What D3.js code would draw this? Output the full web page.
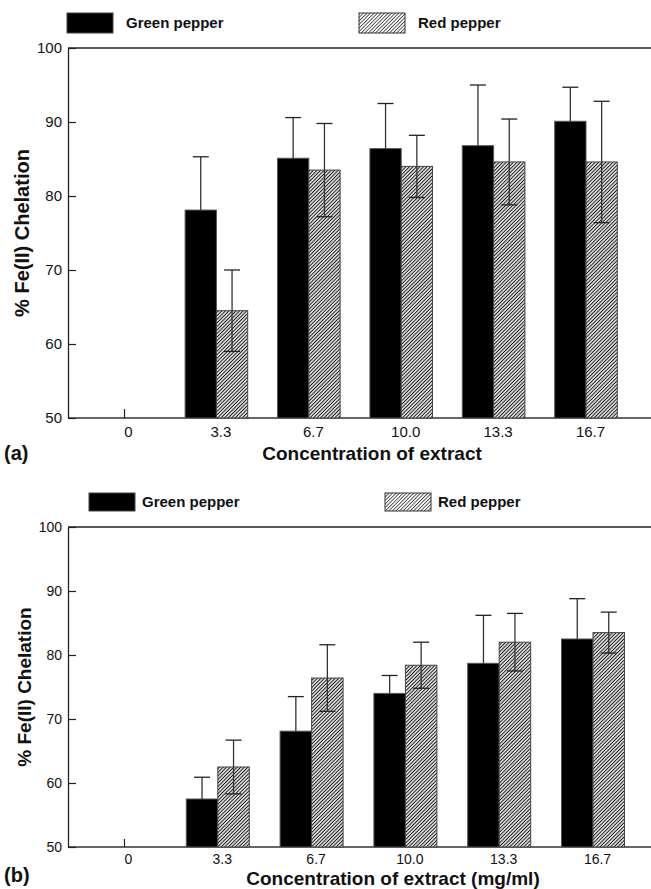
<!DOCTYPE html>
<html>
<head>
<meta charset="utf-8">
<script src="https://cdn.jsdelivr.net/npm/d3@7"></script>
<style>
  body { margin: 0; background: #ffffff; }
  svg { display: block; font-family: "Liberation Sans", Arial, Helvetica, sans-serif; }
</style>
</head>
<body>
<svg id="chart" width="651" height="889"></svg>
<script>
// Chart data
const concentrations = ["0", "3.3", "6.7", "10.0", "13.3", "16.7"];
const seriesNames = ["Green pepper", "Red pepper"];
const yTicks = [50, 60, 70, 80, 90, 100];

// (a) % Fe(II) chelation
const greenA = [null, 78.1, 85.1, 86.4, 86.8, 90.1];
const greenErrA = [null, 7.2, 5.5, 6.1, 8.2, 4.6];
const redA = [null, 64.5, 83.5, 84.0, 84.6, 84.6];
const redErrA = [null, 5.5, 6.3, 4.2, 5.8, 8.2];

// (b) % Fe(II) chelation
const greenB = [null, 57.5, 68.1, 74.0, 78.7, 82.5];
const greenErrB = [null, 3.4, 5.4, 2.8, 7.5, 6.3];
const redB = [null, 62.5, 76.4, 78.4, 82.0, 83.5];
const redErrB = [null, 4.2, 5.2, 3.6, 4.5, 3.2];

const svg = d3.select('#chart');

// Hatch pattern for red pepper bars
const defs = svg.append('defs');
function addHatch(id, color, width, step) {
    const p = defs.append('pattern')
        .attr('id', id)
        .attr('patternUnits', 'userSpaceOnUse')
        .attr('width', step)
        .attr('height', step)
        .attr('patternTransform', 'rotate(45)');
    p.append('rect').attr('width', step).attr('height', step).attr('fill', '#ffffff');
    p.append('line')
        .attr('x1', step / 2).attr('y1', 0)
        .attr('x2', step / 2).attr('y2', step)
        .attr('stroke', color)
        .attr('stroke-width', width);
}
addHatch('hatch', '#111', 1.1, 2.5);
addHatch('hatchLegend', '#333', 0.8, 2.5);

function drawPanel(cfg) {
    const g = svg.append('g');
    const left = 68, right = 660;

    const y = d3.scaleLinear().domain([50, 100]).range([cfg.bottom, cfg.top]);
    const x = d3.scalePoint().domain(concentrations).range([124, cfg.lastX]);
    const sx = d3.scaleBand().domain(seriesNames).range([-cfg.barW, cfg.barW]);

    // Frame lines
    g.append('line')
        .attr('x1', left).attr('x2', right)
        .attr('y1', cfg.top).attr('y2', cfg.top)
        .attr('stroke', '#222').attr('stroke-width', 1.3);
    g.append('line')
        .attr('x1', left).attr('x2', right)
        .attr('y1', cfg.bottom).attr('y2', cfg.bottom)
        .attr('stroke', '#333').attr('stroke-width', 1.6);

    // Y axis
    const yAxis = g.append('g')
        .attr('transform', `translate(${left},0)`)
        .call(d3.axisLeft(y)
            .tickValues(yTicks)
            .tickSize(-8)
            .tickSizeOuter(0)
            .tickPadding(6)
            .tickFormat(d3.format('d')));
    yAxis.select('.domain').attr('stroke', '#222').attr('stroke-width', 1.3);
    yAxis.selectAll('.tick line').attr('stroke', '#222').attr('stroke-width', 1.2);
    yAxis.selectAll('text')
        .style('font-size', cfg.tickFont + 'px')
        .attr('fill', '#111');

    // X axis
    const xAxis = g.append('g')
        .attr('transform', `translate(0,${cfg.bottom})`)
        .call(d3.axisBottom(x)
            .tickSize(-cfg.xTick)
            .tickSizeOuter(0)
            .tickPadding(cfg.xPad));
    xAxis.select('.domain').remove();
    xAxis.selectAll('.tick line').attr('stroke', '#222').attr('stroke-width', 1.2);
    xAxis.selectAll('text')
        .attr('dx', 4)
        .style('font-size', cfg.tickFont + 'px')
        .attr('fill', '#111');

    // Bars
    const rows = concentrations.map((c, i) => ({
        cat: c,
        values: [
            { name: seriesNames[0], v: cfg.green[i], e: cfg.greenErr[i] },
            { name: seriesNames[1], v: cfg.red[i], e: cfg.redErr[i] }
        ]
    }));

    const groups = g.selectAll('.grp')
        .data(rows)
        .enter().append('g')
        .attr('class', 'grp')
        .attr('transform', d => `translate(${x(d.cat)},0)`);

    groups.selectAll('rect')
        .data(d => d.values.filter(s => s.v != null))
        .enter().append('rect')
        .attr('x', d => sx(d.name))
        .attr('y', d => y(d.v))
        .attr('width', sx.bandwidth())
        .attr('height', d => y(50) - y(d.v))
        .attr('fill', d => d.name === seriesNames[0] ? '#000' : 'url(#hatch)')
        .attr('stroke', d => d.name === seriesNames[0] ? '#555' : '#444')
        .attr('stroke-width', 1);

    // Error bars (green: upper only, red: both directions)
    const capW = 8;
    const errs = groups.selectAll('.err')
        .data(d => d.values.filter(s => s.v != null))
        .enter().append('g')
        .attr('class', 'err')
        .attr('transform', d => `translate(${sx(d.name) + sx.bandwidth() / 2},0)`);

    errs.append('line')
        .attr('x1', 0).attr('x2', 0)
        .attr('y1', d => d.name === seriesNames[0] ? y(d.v) : y(d.v - d.e))
        .attr('y2', d => y(d.v + d.e))
        .attr('stroke', '#333').attr('stroke-width', 1.3);
    errs.append('line')
        .attr('x1', -capW).attr('x2', capW)
        .attr('y1', d => y(d.v + d.e)).attr('y2', d => y(d.v + d.e))
        .attr('stroke', '#222').attr('stroke-width', 1.3);
    errs.filter(d => d.name === seriesNames[1]).append('line')
        .attr('x1', -capW).attr('x2', capW)
        .attr('y1', d => y(d.v - d.e)).attr('y2', d => y(d.v - d.e))
        .attr('stroke', '#222').attr('stroke-width', 1.3);

    // Legend
    const lg = g.append('g');
    seriesNames.forEach((name, i) => {
        lg.append('rect')
            .attr('x', cfg.legendX[i])
            .attr('y', cfg.legendY)
            .attr('width', 46)
            .attr('height', cfg.legendH)
            .attr('fill', i === 0 ? '#000' : 'url(#hatchLegend)')
            .attr('stroke', i === 0 ? '#444' : '#333')
            .attr('stroke-width', 1);
        lg.append('text')
            .attr('x', cfg.legendX[i] + cfg.legendGap)
            .attr('y', cfg.legendY + cfg.legendH / 2)
            .attr('dy', '0.36em')
            .style('font-size', '15px')
            .style('font-weight', 'bold')
            .attr('fill', '#111')
            .text(name);
    });

    // Axis titles
    g.append('text')
        .attr('transform', `translate(${cfg.yTitleX},${(cfg.top + cfg.bottom) / 2}) rotate(-90)`)
        .attr('text-anchor', 'middle')
        .attr('dy', '0.36em')
        .style('font-size', cfg.yTitleFont + 'px')
        .style('font-weight', 'bold')
        .attr('fill', '#111')
        .text('% Fe(II) Chelation');

    g.append('text')
        .attr('x', cfg.xTitleX)
        .attr('y', cfg.xTitleY)
        .attr('text-anchor', 'middle')
        .style('font-size', '19px')
        .style('font-weight', 'bold')
        .attr('fill', '#111')
        .text(cfg.xTitle);

    g.append('text')
        .attr('x', 4)
        .attr('y', cfg.tagY)
        .style('font-size', '20px')
        .style('font-weight', 'bold')
        .attr('fill', '#111')
        .text(cfg.tag);
}

drawPanel({
    top: 48, bottom: 418, lastX: 586, barW: 31.3,
    green: greenA, greenErr: greenErrA, red: redA, redErr: redErrA,
    tickFont: 15, xTick: 9, xPad: 8,
    legendX: [67, 359], legendY: 13, legendH: 20, legendGap: 59,
    yTitleX: 22, yTitleFont: 20,
    xTitle: 'Concentration of extract', xTitleX: 372, xTitleY: 460,
    tag: '(a)', tagY: 460
});

drawPanel({
    top: 527, bottom: 847, lastX: 593, barW: 31.5,
    green: greenB, greenErr: greenErrB, red: redB, redErr: redErrB,
    tickFont: 14, xTick: 8, xPad: 7,
    legendX: [89, 385], legendY: 493, legendH: 18, legendGap: 53,
    yTitleX: 24, yTitleFont: 19,
    xTitle: 'Concentration of extract (mg/ml)', xTitleX: 393, xTitleY: 885,
    tag: '(b)', tagY: 882
});
</script>
</body>
</html>
